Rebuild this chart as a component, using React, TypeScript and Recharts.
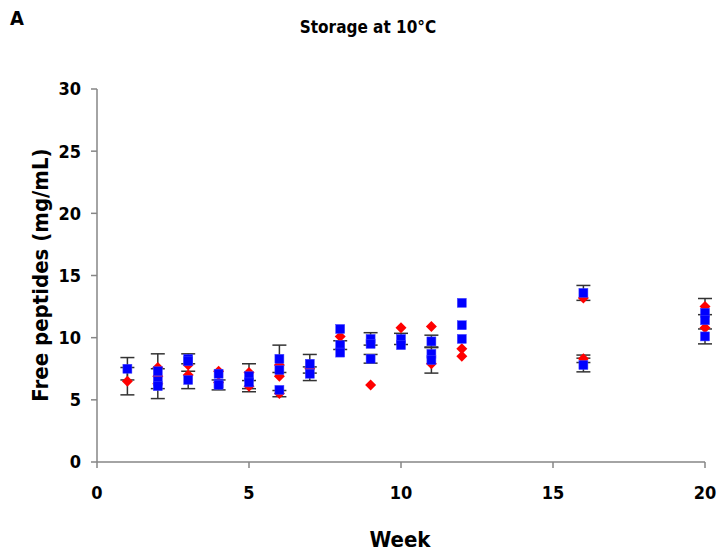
import { ScatterChart, Scatter, XAxis, YAxis, ErrorBar } from 'recharts';

// blue squares
const blueWeek = [1, 2, 2, 2, 3, 3, 3, 4, 4, 4, 5, 5, 6, 6, 6, 7, 7, 8, 8, 8, 9, 9, 9, 10, 10, 11, 11, 11, 12, 12, 12, 16, 16, 20, 20, 20];
const blueValue = [7.5, 7.3, 6.5, 6.1, 8.3, 8.1, 6.6, 7.1, 6.3, 6.2, 6.9, 6.4, 8.3, 7.4, 5.8, 7.9, 7.1, 10.7, 9.4, 8.8, 9.9, 9.5, 8.3, 9.9, 9.4, 9.7, 8.7, 8.2, 12.8, 11.0, 9.9, 13.6, 7.8, 12.0, 11.4, 10.1];
const blueErr = [0.9, 1.4, 0, 0, 0.4, 0, 0.7, 0, 0, 0.4, 1.0, 0, 1.1, 0, 0, 0.75, 0.55, 0, 0.35, 0, 0.5, 0, 0.35, 0.45, 0, 0.5, 0, 1.05, 0, 0, 0, 0.6, 0.55, 0, 0, 0.6];

// red diamonds
const redWeek = [1, 2, 2, 2, 3, 3, 4, 4, 5, 5, 6, 6, 6, 7, 8, 9, 10, 11, 11, 12, 12, 16, 16, 20, 20];
const redValue = [6.5, 7.6, 6.9, 6.3, 7.8, 7.0, 7.3, 6.4, 7.2, 6.1, 7.8, 6.9, 5.5, 7.5, 10.1, 6.2, 10.8, 10.9, 7.9, 9.1, 8.5, 13.2, 8.3, 12.5, 10.8];
const redErr = [1.1, 0, 0, 1.2, 0, 0, 0, 0, 0, 0.45, 0, 0, 0.25, 0, 0, 0, 0, 0, 0, 0, 0, 0, 0.3, 0.65, 0];

const xTicks = [0, 5, 10, 15, 20];
const yTicks = [0, 5, 10, 15, 20, 25, 30];

const blueData = blueWeek.map((w, i) => ({ week: w, value: blueValue[i], err: blueErr[i] }));
const redData = redWeek.map((w, i) => ({ week: w, value: redValue[i], err: redErr[i] }));
// only the points that carry an error bar
const errData = [...redData, ...blueData].filter((d) => d.err > 0);

const FONT = "'DejaVu Sans Condensed', 'DejaVu Sans', sans-serif";
const tickStyle = { fill: '#000', fontSize: 18, fontWeight: 700, fontFamily: FONT };

const Square = (props: any) => (
  <rect x={props.cx - 4.5} y={props.cy - 4.5} width={9} height={9} fill="#0000ff" stroke="#4444ff" strokeWidth={0.5} />
);

const Diamond = (props: any) => {
  const { cx, cy } = props;
  return <polygon points={`${cx},${cy - 5.5} ${cx + 5.5},${cy} ${cx},${cy + 5.5} ${cx - 5.5},${cy}`} fill="#ff0000" />;
};

const Nothing = () => <g />;

const textBase: React.CSSProperties = {
  position: 'absolute',
  fontFamily: FONT,
  fontWeight: 700,
  color: '#000',
  whiteSpace: 'nowrap',
};

export default function App() {
  return (
    <div style={{ position: 'absolute', left: 0, top: 0, width: 719, height: 553, background: '#fff' }}>
      <ScatterChart width={719} height={553} margin={{ top: 89, right: 14, bottom: 31, left: 37 }}>
        <XAxis
          type="number"
          dataKey="week"
          domain={[0, 20]}
          ticks={xTicks}
          height={60}
          tick={tickStyle}
          tickSize={6}
          tickMargin={18}
          stroke="#868686"
          strokeWidth={1.5}
          tickLine={{ stroke: '#868686' }}
        />
        <YAxis
          type="number"
          dataKey="value"
          domain={[0, 30]}
          ticks={yTicks}
          width={60}
          tick={tickStyle}
          tickSize={6}
          tickMargin={10}
          stroke="#868686"
          strokeWidth={1.5}
          tickLine={{ stroke: '#868686' }}
        />
        <Scatter data={errData} shape={Nothing} isAnimationActive={false}>
          <ErrorBar dataKey="err" direction="y" width={7} stroke="#333" strokeWidth={1.5} />
        </Scatter>
        <Scatter data={redData} shape={Diamond} isAnimationActive={false} />
        <Scatter data={blueData} shape={Square} isAnimationActive={false} />
      </ScatterChart>
      <div style={{ ...textBase, left: 10, top: 6, fontSize: 20 }}>A</div>
      <div style={{ ...textBase, left: 368, top: 17, fontSize: 17, transform: 'translateX(-50%)' }}>Storage at 10°C</div>
      <div style={{ ...textBase, left: 400, top: 527, fontSize: 22, transform: 'translateX(-50%)' }}>Week</div>
      <div
        style={{
          ...textBase,
          left: 40,
          top: 275,
          fontSize: 22,
          transform: 'translate(-50%, -50%) rotate(-90deg)',
        }}
      >
        Free peptides (mg/mL)
      </div>
    </div>
  );
}
